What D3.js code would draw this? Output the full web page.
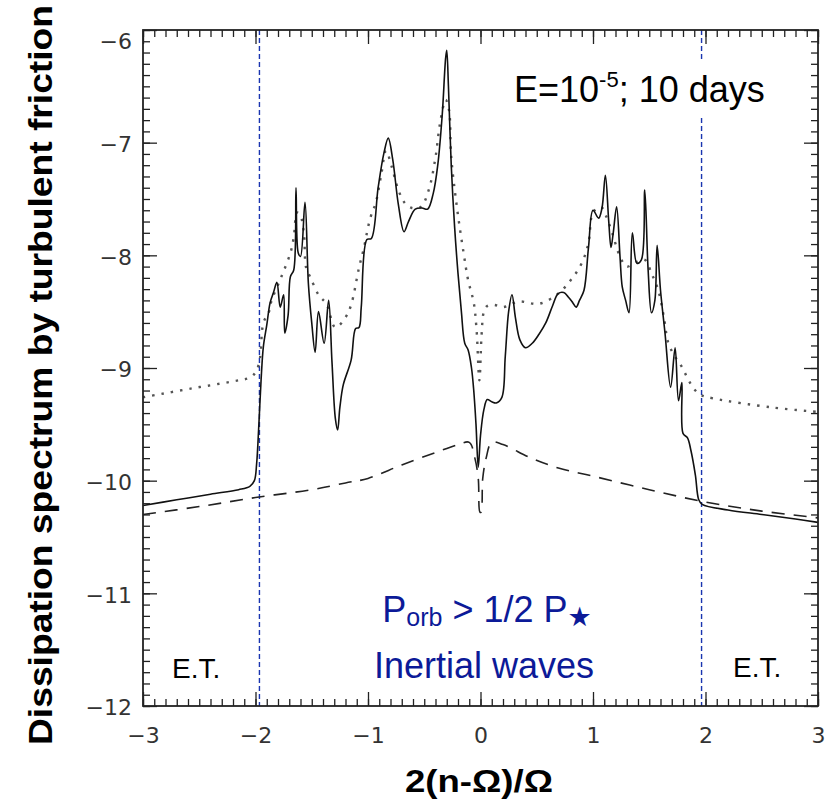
<!DOCTYPE html>
<html>
<head>
<meta charset="utf-8">
<title>Dissipation spectrum</title>
<script src="https://d3js.org/d3.v7.min.js"></script>
<style>
  html, body { margin: 0; background: #fff; }
  svg { display: block; font-family: "Liberation Sans", Arial, sans-serif; }
</style>
</head>
<body>
<svg id="chart" width="839" height="808"></svg>
<script>
// solid: full dissipation spectrum
const solidX = [-3.00,-2.70,-2.40,-2.15,-2.05,-2.01,-1.99,-1.97,-1.95,-1.93,-1.90,-1.87,-1.84,-1.81,-1.78,-1.75,-1.74,-1.71,-1.69,-1.66,-1.64,-1.62,-1.60,-1.56,-1.53,-1.50,-1.47,-1.44,-1.39,-1.35,-1.32,-1.29,-1.27,-1.25,-1.22,-1.15,-1.11,-1.08,-1.06,-1.01,-0.97,-0.91,-0.86,-0.82,-0.78,-0.73,-0.68,-0.64,-0.58,-0.52,-0.47,-0.42,-0.38,-0.34,-0.31,-0.30,-0.285,-0.26,-0.23,-0.20,-0.17,-0.14,-0.11,-0.08,-0.06,-0.04,-0.02,0.00,0.03,0.06,0.10,0.14,0.19,0.22,0.25,0.28,0.31,0.35,0.40,0.46,0.52,0.58,0.64,0.69,0.74,0.78,0.82,0.85,0.88,0.92,0.96,1.00,1.05,1.08,1.11,1.14,1.16,1.18,1.21,1.24,1.26,1.29,1.32,1.35,1.39,1.43,1.46,1.49,1.52,1.55,1.57,1.60,1.64,1.69,1.73,1.76,1.79,1.80,1.84,1.87,1.91,1.94,1.97,2.20,2.50,2.80,3.00];
const solidY = [-10.22,-10.17,-10.12,-10.08,-10.05,-10.00,-9.85,-9.50,-9.10,-8.81,-8.62,-8.42,-8.33,-8.24,-8.46,-8.35,-8.69,-8.53,-8.19,-8.13,-7.40,-7.98,-8.01,-7.53,-8.25,-8.60,-8.86,-8.50,-8.78,-8.40,-8.95,-9.45,-9.55,-9.35,-9.15,-8.93,-8.65,-8.64,-8.46,-7.86,-7.85,-7.40,-7.10,-6.96,-7.15,-7.55,-7.79,-7.70,-7.59,-7.58,-7.59,-7.45,-7.20,-6.75,-6.25,-6.18,-6.50,-7.20,-7.75,-8.16,-8.50,-8.78,-8.84,-9.00,-9.20,-9.50,-9.88,-9.60,-9.37,-9.28,-9.30,-9.31,-9.26,-8.90,-8.50,-8.35,-8.55,-8.75,-8.82,-8.78,-8.70,-8.60,-8.45,-8.34,-8.33,-8.37,-8.42,-8.46,-8.40,-8.31,-7.93,-7.60,-7.67,-7.58,-7.29,-7.70,-7.93,-7.80,-7.57,-8.01,-8.28,-8.40,-8.51,-7.80,-8.07,-8.04,-7.42,-8.13,-8.51,-8.40,-7.91,-8.31,-8.69,-9.17,-8.82,-9.29,-9.13,-9.58,-9.62,-9.73,-9.95,-10.17,-10.21,-10.26,-10.30,-10.34,-10.37];

// dotted curve
const dotX = [-3.00,-2.56,-2.21,-2.04,-1.99,-1.96,-1.93,-1.88,-1.86,-1.77,-1.69,-1.66,-1.63,-1.60,-1.57,-1.55,-1.51,-1.44,-1.37,-1.29,-1.20,-1.15,-1.08,-1.04,-0.98,-0.93,-0.88,-0.84,-0.79,-0.73,-0.67,-0.61,-0.53,-0.46,-0.40,-0.36,-0.31,-0.28,-0.26,-0.21,-0.15,-0.11,-0.06,-0.035,-0.01,0.01,0.03,0.06,0.12,0.20,0.34,0.52,0.69,0.81,0.90,0.96,1.00,1.07,1.12,1.17,1.24,1.30,1.38,1.46,1.52,1.58,1.63,1.67,1.73,1.79,1.85,1.91,1.96,2.07,2.59,3.00];
const dotY = [-9.26,-9.18,-9.12,-9.08,-9.02,-8.91,-8.60,-8.50,-8.41,-8.19,-7.98,-7.84,-7.62,-7.65,-7.80,-8.11,-8.20,-8.35,-8.43,-8.64,-8.55,-8.44,-8.11,-7.95,-7.67,-7.53,-7.27,-7.07,-7.21,-7.42,-7.54,-7.58,-7.57,-7.42,-7.13,-6.83,-6.62,-6.71,-7.13,-7.57,-7.98,-8.22,-8.42,-8.66,-9.11,-8.70,-8.50,-8.45,-8.44,-8.46,-8.41,-8.43,-8.34,-8.21,-8.07,-7.89,-7.62,-7.57,-7.66,-7.80,-8.01,-8.10,-8.06,-8.04,-8.16,-8.31,-8.55,-8.78,-8.90,-8.99,-9.11,-9.20,-9.24,-9.27,-9.35,-9.39];

// dashed curve
const dashX = [-3,-2.5,-2,-1.5,-1.2,-1,-0.7,-0.4,-0.2,-0.1,-0.05,-0.02,-0.005,0.005,0.02,0.05,0.1,0.2,0.45,0.7,1,1.5,2,2.5,3];
const dashY = [-10.30,-10.23,-10.15,-10.08,-10.02,-9.98,-9.86,-9.75,-9.68,-9.66,-9.80,-9.98,-10.28,-10.28,-9.98,-9.80,-9.66,-9.68,-9.80,-9.89,-9.96,-10.08,-10.19,-10.27,-10.33];

const xTicks = [-3,-2,-1,0,1,2,3];
const yTicks = [-12,-11,-10,-9,-8,-7,-6];
const boundaries = [-1.965, 1.965];

const svg = d3.select("#chart");
const mLeft = 143, mTop = 30, mRight = 818, mBottom = 706;

const x = d3.scaleLinear().domain([-3, 3]).range([mLeft, mRight]);
const y = d3.scaleLinear().domain([-12, -6]).range([mBottom, mTop]);

const fmt = d => d < 0 ? "\u2212" + Math.abs(d) : String(d);
const xMinor = d3.range(-30, 31).map(d => d / 10);
const yMinor = d3.range(-120, -59).map(d => d / 10);

// vertical boundary lines (behind everything)
svg.selectAll("line.bound")
  .data(boundaries)
  .join("line")
  .attr("class", "bound")
  .attr("x1", d => x(d)).attr("x2", d => x(d))
  .attr("y1", mTop).attr("y2", mBottom)
  .attr("stroke", "#1a35b0")
  .attr("stroke-width", 1.4)
  .attr("stroke-dasharray", "5,3");

// curves
const line = (xs, ys) => d3.line()
  .x((d, i) => x(xs[i]))
  .y((d, i) => y(ys[i]))
  .curve(d3.curveCatmullRom.alpha(0.5))(xs);

svg.append("path")
  .attr("d", line(dashX, dashY))
  .attr("fill", "none")
  .attr("stroke", "#222")
  .attr("stroke-width", 1.6)
  .attr("stroke-dasharray", "13,9");

svg.append("path")
  .attr("d", line(dotX, dotY))
  .attr("fill", "none")
  .attr("stroke", "#555")
  .attr("stroke-width", 2.4)
  .attr("stroke-dasharray", "2.4,7");

svg.append("path")
  .attr("d", line(solidX, solidY))
  .attr("fill", "none")
  .attr("stroke", "#111")
  .attr("stroke-width", 1.6)
  .attr("stroke-linejoin", "round");

// axes: major + minor ticks on all four sides, pointing inward
function drawAxis(axisFn, scale, pos, transform, ticks, minor, labels) {
  const gMinor = svg.append("g").attr("transform", transform)
    .call(axisFn(scale).tickValues(minor).tickSize(-7).tickFormat(""));
  gMinor.select(".domain").remove();
  const g = svg.append("g").attr("transform", transform)
    .call(axisFn(scale).tickValues(ticks).tickSize(-14).tickPadding(pos === "v" ? 12 : 21)
      .tickFormat(labels ? fmt : ""));
  g.select(".domain").remove();
  svg.selectAll(".tick line").attr("stroke", "#222").attr("stroke-width", 1.3);
  return g;
}

const gx = drawAxis(d3.axisBottom, x, "h", `translate(0,${mBottom})`, xTicks, xMinor, true);
drawAxis(d3.axisTop, x, "h", `translate(0,${mTop})`, xTicks, xMinor, false);
const gy = drawAxis(d3.axisLeft, y, "v", `translate(${mLeft},0)`, yTicks, yMinor, true);
drawAxis(d3.axisRight, y, "v", `translate(${mRight},0)`, yTicks, yMinor, false);

gx.attr("font-family", null).attr("font-size", null);
gy.attr("font-family", null).attr("font-size", null);
gx.selectAll(".tick text")
  .style("font-family", "'DejaVu Sans', sans-serif")
  .style("font-size", "22px")
  .attr("fill", "#333");
gy.selectAll(".tick text")
  .style("font-family", "'DejaVu Sans', sans-serif")
  .style("font-size", "22px")
  .attr("fill", "#333")
  .attr("x", -11)
  .attr("dy", d => d === -6 ? "0.85em" : "0.4em");

// frame
svg.append("rect")
  .attr("x", mLeft).attr("y", mTop)
  .attr("width", mRight - mLeft).attr("height", mBottom - mTop)
  .attr("fill", "none").attr("stroke", "#222").attr("stroke-width", 1.8);

// Ekman number label with white background
const eBg = svg.append("rect").attr("fill", "#fff");
const eText = svg.append("text")
  .attr("x", 514).attr("y", 102)
  .attr("font-size", 36).attr("fill", "#000");
eText.append("tspan").text("E=10");
eText.append("tspan").attr("font-size", 22).attr("dy", -15).text("-5");
eText.append("tspan").attr("dy", 15).text("; 10 days");
const bb = eText.node().getBBox();
eBg.attr("x", bb.x - 6).attr("y", bb.y - 6)
  .attr("width", bb.width + 12).attr("height", bb.height + 12);

// region labels
svg.append("text").attr("x", 172).attr("y", 678)
  .attr("font-size", 28).attr("fill", "#000").text("E.T.");
svg.append("text").attr("x", 733).attr("y", 677)
  .attr("font-size", 28).attr("fill", "#000").text("E.T.");

const blue = "#0c1a98";
const pText = svg.append("text")
  .attr("x", 487).attr("y", 622)
  .attr("text-anchor", "middle")
  .attr("font-size", 36).attr("fill", blue);
pText.append("tspan").text("P");
pText.append("tspan").attr("font-size", 25).attr("dy", 4).text("orb");
pText.append("tspan").attr("dy", -4).text(" > 1/2 P");
pText.append("tspan").attr("font-size", 27).attr("dy", 4)
  .style("font-family", "'DejaVu Sans', sans-serif").text("\u2605");

svg.append("text")
  .attr("x", 484).attr("y", 678)
  .attr("text-anchor", "middle")
  .attr("font-size", 36).attr("fill", blue)
  .text("Inertial waves");

// axis titles
svg.append("text")
  .attr("transform", "translate(52,375) rotate(-90)")
  .attr("text-anchor", "middle")
  .attr("font-size", 33).attr("font-weight", "bold")
  .attr("textLength", 740).attr("lengthAdjust", "spacingAndGlyphs")
  .text("Dissipation spectrum by turbulent friction");

svg.append("text")
  .attr("x", 479).attr("y", 792)
  .attr("text-anchor", "middle")
  .attr("font-size", 32).attr("font-weight", "bold")
  .attr("textLength", 148).attr("lengthAdjust", "spacingAndGlyphs")
  .text("2(n-\u03A9)/\u03A9");
</script>
</body>
</html>
